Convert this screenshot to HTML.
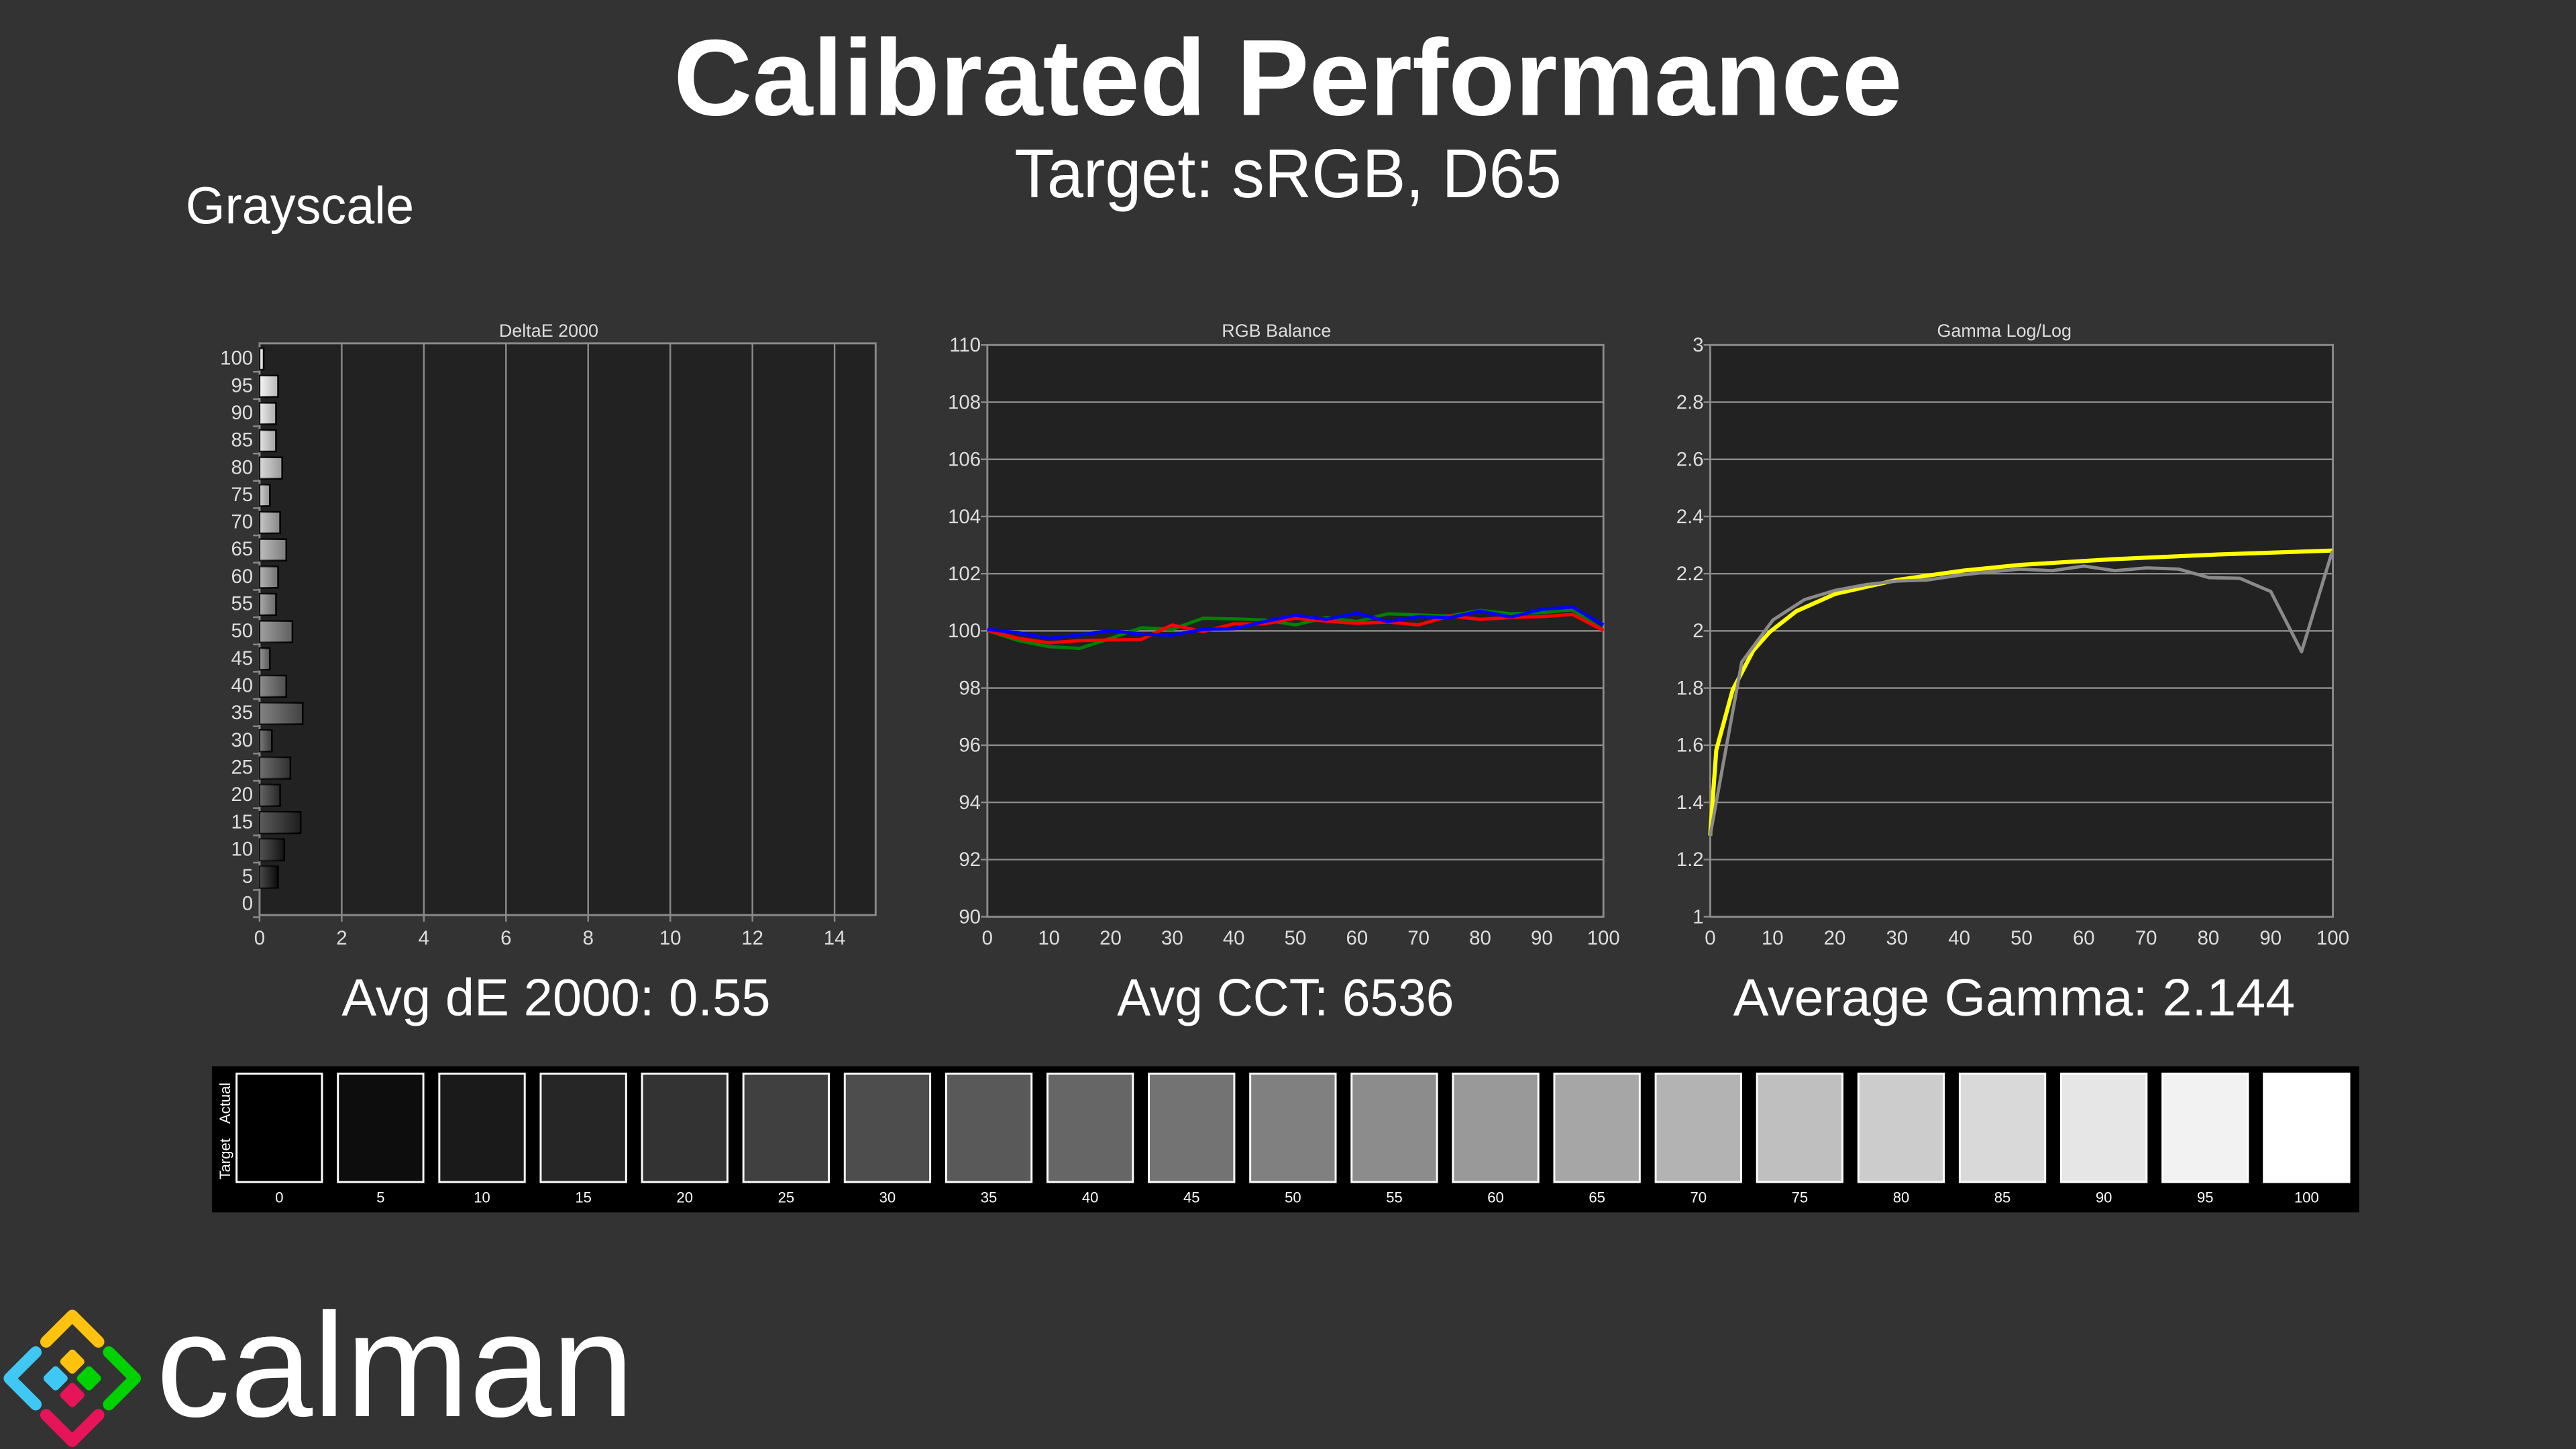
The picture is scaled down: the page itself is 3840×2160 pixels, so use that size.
<!DOCTYPE html>
<html><head><meta charset="utf-8"><style>
html,body{margin:0;padding:0;background:#333;}
svg{display:block}
text{font-family:"Liberation Sans",sans-serif;}
</style></head><body>
<svg id="s" width="3840" height="2160" viewBox="0 0 1568 882" preserveAspectRatio="none" xmlns="http://www.w3.org/2000/svg">
<defs>
<linearGradient id="sh" x1="0" y1="0" x2="1" y2="0"><stop offset="0" stop-color="#fff" stop-opacity="0.25"/><stop offset="1" stop-color="#000" stop-opacity="0.25"/></linearGradient>
</defs>
<rect width="1568" height="882" fill="#333"/>
<text x="784" y="70" text-anchor="middle" font-size="66" font-weight="bold" fill="#fff" textLength="748" lengthAdjust="spacingAndGlyphs">Calibrated Performance</text>
<text x="784" y="120" text-anchor="middle" font-size="42" fill="#fff" textLength="333" lengthAdjust="spacingAndGlyphs">Target: sRGB, D65</text>
<text x="113" y="136" font-size="32" fill="#fff" textLength="139" lengthAdjust="spacingAndGlyphs">Grayscale</text>
<text x="208" y="618" font-size="32" fill="#fff" textLength="261" lengthAdjust="spacingAndGlyphs">Avg dE 2000: 0.55</text>
<text x="680" y="618" font-size="32" fill="#fff" textLength="205" lengthAdjust="spacingAndGlyphs">Avg CCT: 6536</text>
<text x="1055" y="618" font-size="32" fill="#fff" textLength="342" lengthAdjust="spacingAndGlyphs">Average Gamma: 2.144</text>
<g id="g1"></g><g id="g2"></g><g id="g3"></g><g id="sw"></g>
<g id="logo">
<g transform="translate(44,839) scale(0.9) rotate(45)">
<rect x="-14.5" y="-14.5" width="13" height="13" rx="2.5" fill="#ffc20e"/>
<rect x="1.5" y="-14.5" width="13" height="13" rx="2.5" fill="#00d100"/>
<rect x="-14.5" y="1.5" width="13" height="13" rx="2.5" fill="#3fc8f4"/>
<rect x="1.5" y="1.5" width="13" height="13" rx="2.5" fill="#e8145a"/>
<polyline points="-30,-5 -30,-30 -5,-30" fill="none" stroke="#ffc20e" stroke-width="8" stroke-linecap="round" stroke-linejoin="round"/>
<polyline points="5,-30 30,-30 30,-5" fill="none" stroke="#00d100" stroke-width="8" stroke-linecap="round" stroke-linejoin="round"/>
<polyline points="-30,5 -30,30 -5,30" fill="none" stroke="#3fc8f4" stroke-width="8" stroke-linecap="round" stroke-linejoin="round"/>
<polyline points="5,30 30,30 30,5" fill="none" stroke="#e8145a" stroke-width="8" stroke-linecap="round" stroke-linejoin="round"/>
</g>
<text x="95" y="862" font-size="90" fill="#fff" textLength="291" lengthAdjust="spacingAndGlyphs">calman</text>
</g>
</svg>
<script>
var NS="http://www.w3.org/2000/svg";
function el(p,t,a,txt){var e=document.createElementNS(NS,t);for(var k in a)e.setAttribute(k,a[k]);if(txt!=null)e.textContent=txt;p.appendChild(e);return e;}
var g1=document.getElementById("g1");
el(g1,"rect",{x:158,y:209,width:375,height:348,fill:"#222",stroke:"#8a8a8a","stroke-width":1.2});
el(g1,"text",{x:334,y:205,"font-size":11,fill:"#ddd","text-anchor":"middle"},"DeltaE 2000");
for(var i=1;i<=7;i++){var x=158+i*2*25;el(g1,"line",{x1:x,y1:209,x2:x,y2:557,stroke:"#8a8a8a","stroke-width":1});}
for(var i=0;i<=7;i++){var x=158+i*2*25;el(g1,"text",{x:x,y:575,"font-size":12,fill:"#ddd","text-anchor":"middle"},String(i*2));el(g1,"line",{x1:x,y1:557,x2:x,y2:561,stroke:"#8a8a8a"});}
var dv={100:0.1,95:0.45,90:0.4,85:0.4,80:0.55,75:0.25,70:0.5,65:0.65,60:0.45,55:0.4,50:0.8,45:0.25,40:0.65,35:1.05,30:0.3,25:0.75,20:0.5,15:1.0,10:0.6,5:0.45,0:0};
for(var k=0;k<=20;k++){var v=k*5;var y=550-k*16.6;
 el(g1,"text",{x:154,y:y+4,"font-size":12,fill:"#ddd","text-anchor":"end"},String(v));
 el(g1,"line",{x1:154,y1:y+8.3,x2:158,y2:y+8.3,stroke:"#8a8a8a"});
 if(dv[v]>0){var c=Math.round(v*2.55);var col="rgb("+c+","+c+","+c+")";
  el(g1,"rect",{x:158,y:y-6,width:dv[v]*25,height:13,fill:col,stroke:"#000","stroke-width":1});
  el(g1,"rect",{x:158,y:y-6,width:dv[v]*25,height:13,fill:"url(#sh)"});}
}
var g2=document.getElementById("g2");
el(g2,"rect",{x:601,y:210,width:375,height:348,fill:"#222",stroke:"#8a8a8a","stroke-width":1.2});
el(g2,"text",{x:777,y:205,"font-size":11,fill:"#ddd","text-anchor":"middle"},"RGB Balance");
for(var i=0;i<=10;i++){var y=210+i*34.8;el(g2,"line",{x1:597,y1:y,x2:976,y2:y,stroke:"#8a8a8a","stroke-width":1});
 el(g2,"text",{x:597,y:y+4,"font-size":12,fill:"#ddd","text-anchor":"end"},String(110-i*2));}
for(var i=0;i<=10;i++){var x=601+i*37.5;el(g2,"text",{x:x,y:575,"font-size":12,fill:"#ddd","text-anchor":"middle"},String(i*10));}
function rl(arr,col){var p=[];for(var i=0;i<arr.length;i++){p.push((601+i*18.75)+","+(359.3+arr[i]/7.35));}
 el(g2,"polyline",{points:p.join(" "),fill:"none",stroke:col,"stroke-width":2});}
rl([180,225,252,260,215,168,175,125,128,133,155,122,140,105,110,115,90,105,100,88,180],"#008000");
rl([180,215,235,225,222,220,155,185,150,150,125,138,148,142,155,115,130,122,118,108,180],"#ff0000");
rl([175,190,215,200,180,197,200,175,172,140,112,130,103,140,118,123,93,120,85,75,155],"#0000ff");
var g3=document.getElementById("g3");
el(g3,"rect",{x:1041,y:210,width:379,height:348,fill:"#222",stroke:"#8a8a8a","stroke-width":1.2});
el(g3,"text",{x:1220,y:205,"font-size":11,fill:"#ddd","text-anchor":"middle"},"Gamma Log/Log");
var gl=["3","2.8","2.6","2.4","2.2","2","1.8","1.6","1.4","1.2","1"];
for(var i=0;i<=10;i++){var y=210+i*34.8;el(g3,"line",{x1:1037,y1:y,x2:1420,y2:y,stroke:"#8a8a8a","stroke-width":1});
 el(g3,"text",{x:1037,y:y+4,"font-size":12,fill:"#ddd","text-anchor":"end"},gl[i]);}
for(var i=0;i<=10;i++){var x=1041+i*37.9;el(g3,"text",{x:x,y:575,"font-size":12,fill:"#ddd","text-anchor":"middle"},String(i*10));}
function gp(pts,col,w){var p=pts.map(function(a){return (1037.2+a[0]/4)+","+(318.5+a[1]/7.1);});
 el(g3,"polyline",{points:p.join(" "),fill:"none",stroke:col,"stroke-width":w,"stroke-linejoin":"round"});}
gp([[15,1350],[30,980],[70,720],[120,550],[160,470],[225,380],[320,305],[470,245],[630,205],[770,180],[1000,155],[1250,135],[1530,118]],"#ffff00",2.5);
gp([[15,1350],[92,600],[168,418],[245,330],[320,290],[395,265],[470,250],[545,245],[620,225],[695,210],[770,198],[848,205],[925,185],[1000,205],[1078,193],[1155,198],[1230,235],[1305,238],[1380,295],[1455,555],[1530,120]],"#8a8a8a",2);
var sw=document.getElementById("sw");
el(sw,"rect",{x:129,y:649,width:1307,height:89,fill:"#000"});
el(sw,"text",{x:0,y:0,"font-size":9,fill:"#fff",transform:"translate(140,718) rotate(-90)"},"Target");
el(sw,"text",{x:0,y:0,"font-size":9,fill:"#fff",transform:"translate(140,684) rotate(-90)"},"Actual");
for(var i=0;i<=20;i++){var x=144+i*61.7;var c=Math.round(i/20*255);
 el(sw,"rect",{x:x,y:653.5,width:52,height:66,fill:"rgb("+c+","+c+","+c+")",stroke:"#fff","stroke-width":1.2});
 el(sw,"text",{x:x+26,y:732,"font-size":9,fill:"#fff","text-anchor":"middle"},String(i*5));}
</script>
</body></html>
